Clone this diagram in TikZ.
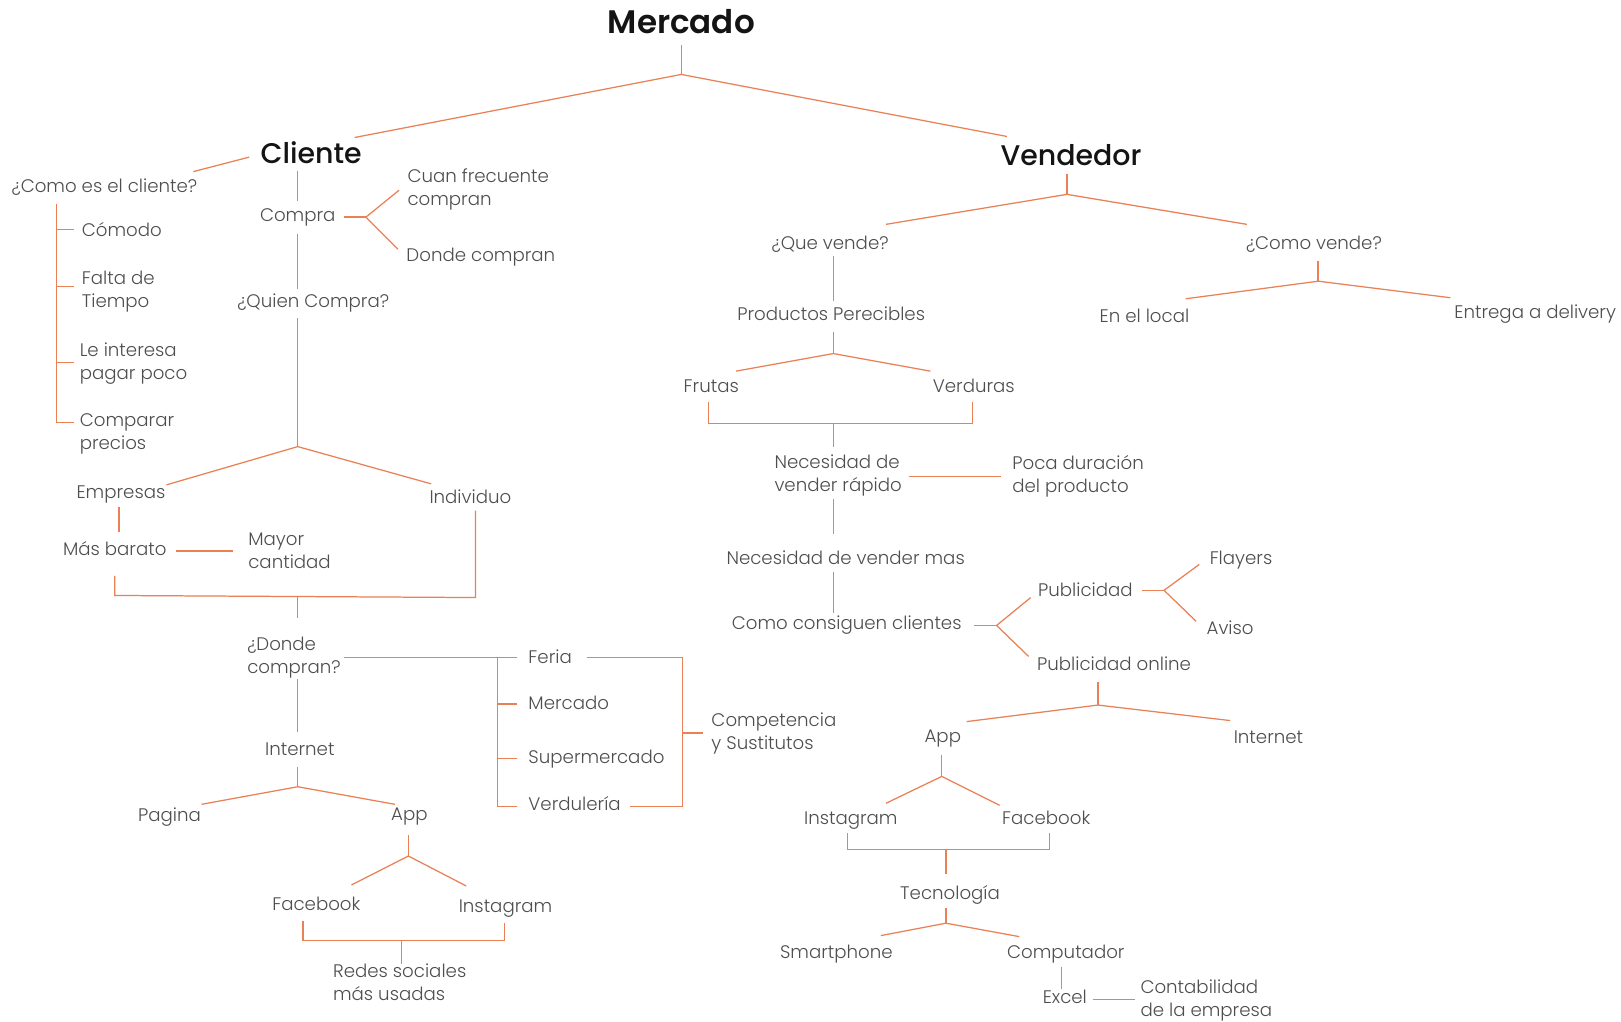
\documentclass[tikz,border=0pt]{standalone}
\usepackage{fontspec}
\setmainfont{Poppins}[UprightFont=* Light, BoldFont=* SemiBold]
\newfontfamily\medfont{Poppins}[UprightFont=* Medium]
\definecolor{lnc}{RGB}{234,128,86}
\definecolor{txt}{RGB}{78,78,78}
\definecolor{ttl}{RGB}{20,20,20}
\begin{document}
\begin{tikzpicture}[x=1pt,y=-1pt,
  t/.style={inner sep=0pt, text=txt, font=\fontsize{17.6}{22}\selectfont, align=left},
  tc/.style={t, anchor=base},
  tl/.style={t, anchor=base west},
  ttlstyle/.style={inner sep=0pt, text=ttl, anchor=base},
  ln/.style={draw=lnc, line width=1.2pt}]
\useasboundingbox[fill=white] (0,0) rectangle (1568,988);

% ---------------- titles
\node[ttlstyle, font=\fontsize{31.5}{36}\selectfont\bfseries] (mercado) at (659,32) {Mercado};
\node[ttlstyle, font=\fontsize{27.5}{30}\selectfont\medfont] (cliente) at (301,158) {Cliente};
\node[ttlstyle, font=\fontsize{27.5}{30}\selectfont\medfont] (vendedor) at (1036,160) {Vendedor};

% ---------------- cliente side (two-line nodes: base = last line)
\node[tc] (comoes) at (101,186) {¿Como es el cliente?};
\node[tl] (comodo) at (79,229) {Cómodo};
\node[tl] (falta) at (79,297) {Falta de\\Tiempo};
\node[tl] (interesa) at (77,367) {Le interesa\\pagar poco};
\node[tl] (comparar) at (77,435) {Comparar\\precios};
\node[tc] (compra) at (288,214) {Compra};
\node[tl] (cuan) at (394,199) {Cuan frecuente\\compran};
\node[tl] (donde1) at (393,253) {Donde compran};
\node[tc] (quien) at (303,297) {¿Quien Compra?};
\node[tc] (empresas) at (117,482) {Empresas};
\node[tc] (individuo) at (455,487) {Individuo};
\node[tc] (barato) at (111,537) {Más barato};
\node[tl] (mayor) at (240,550) {Mayor\\cantidad};
\node[tl] (dondec) at (239,651) {¿Donde\\compran?};
\node[tl] (feria) at (511,642) {Feria};
\node[tl] (mercado2) at (511,686) {Mercado};
\node[tl] (super) at (511,739) {Supermercado};
\node[tl] (verdu) at (511,784) {Verdulería};
\node[tl] (compet) at (688,725) {Competencia\\y Sustitutos};
\node[tc] (internet1) at (290,731) {Internet};
\node[tc] (pagina) at (164,795) {Pagina};
\node[tc] (app1) at (396,794) {App};
\node[tc] (fb1) at (306,881) {Facebook};
\node[tc] (ig1) at (489,883) {Instagram};
\node[tl] (redes) at (322,968) {Redes sociales\\más usadas};

% ---------------- vendedor side
\node[tc] (quevende) at (803,241) {¿Que vende?};
\node[tc] (comovende) at (1271,241) {¿Como vende?};
\node[tc] (enlocal) at (1107,312) {En el local};
\node[tc] (delivery) at (1485,308) {Entrega a delivery};
\node[tc] (perecibles) at (804,310) {Productos Perecibles};
\node[tc] (frutas) at (688,380) {Frutas};
\node[tc] (verduras) at (942,380) {Verduras};
\node[tl] (necesidad) at (749,475) {Necesidad de\\vender rápido};
\node[tl] (poca) at (979,476) {Poca duración\\del producto};
\node[tc] (nvmas) at (818,546) {Necesidad de vender mas};
\node[tc] (consiguen) at (819,609) {Como consiguen clientes};
\node[tl] (publicidad) at (1004,577) {Publicidad};
\node[tl] (flayers) at (1170,546) {Flayers};
\node[tl] (aviso) at (1167,614) {Aviso};
\node[tl] (puonline) at (1003,649) {Publicidad online};
\node[tc] (app2) at (912,718) {App};
\node[tc] (internet2) at (1227,719) {Internet};
\node[tc] (ig2) at (823,798) {Instagram};
\node[tc] (fb2) at (1012,798) {Facebook};
\node[tc] (tecno) at (919,870) {Tecnología};
\node[tc] (smart) at (809,927) {Smartphone};
\node[tc] (comput) at (1031,927) {Computador};
\node[tc] (excel) at (1030,971) {Excel};
\node[tl] (contab) at (1103,983) {Contabilidad\\de la empresa};

% ---------------- connector points
\coordinate (mA) at (659,44);  \coordinate (mJ) at (659,72);
\coordinate (mL) at (343,133); \coordinate (mR) at (974,132);
\coordinate (cA) at (241,152); \coordinate (cB) at (187,166);
\coordinate (bT) at (55,197);  \coordinate (bB) at (55,409);
\coordinate (b1) at (55,222);  \coordinate (b2) at (55,277);  \coordinate (b3) at (55,351);
\coordinate (b1e) at (72,222); \coordinate (b2e) at (72,277); \coordinate (b3e) at (72,351); \coordinate (b4e) at (72,409);
\coordinate (clA) at (288,165); \coordinate (clB) at (288,194);
\coordinate (coA) at (288,226); \coordinate (coB) at (288,280);
\coordinate (fkA) at (333,210); \coordinate (fkJ) at (354,210);
\coordinate (fkU) at (386,184); \coordinate (fkD) at (385,241);
\coordinate (qA) at (288,308); \coordinate (qJ) at (288,432);
\coordinate (qL) at (161,469); \coordinate (qR) at (417,468);
\coordinate (eA) at (115,490); \coordinate (eB) at (115,515);
\coordinate (mbA) at (170,533); \coordinate (mbB) at (225,533);
\coordinate (mgA) at (111,557); \coordinate (mgB) at (111,576);
\coordinate (mgC) at (460,578); \coordinate (mgD) at (460,494);
\coordinate (mgS) at (288,577); \coordinate (mgE) at (288,598);
\coordinate (dA) at (333,636); \coordinate (dJ) at (481,636); \coordinate (dF) at (500,636);
\coordinate (dB) at (481,780); \coordinate (dV) at (500,780);
\coordinate (d2) at (481,681); \coordinate (d2e) at (500,681);
\coordinate (d3) at (481,734); \coordinate (d3e) at (500,734);
\coordinate (rA) at (568,636); \coordinate (rB) at (660,636);
\coordinate (rC) at (660,780); \coordinate (rD) at (609,780);
\coordinate (rM) at (660,709); \coordinate (rMe) at (680,709);
\coordinate (diA) at (288,657); \coordinate (diB) at (288,708);
\coordinate (iA) at (288,742); \coordinate (iJ) at (288,761);
\coordinate (iL) at (195,778); \coordinate (iR) at (382,778);
\coordinate (aA) at (395,808); \coordinate (aJ) at (395,828);
\coordinate (aL) at (340,856); \coordinate (aR) at (451,857);
\coordinate (rsA) at (293,891); \coordinate (rsB) at (293,910);
\coordinate (rsC) at (488,910); \coordinate (rsD) at (488,893);
\coordinate (rsS) at (388,910); \coordinate (rsE) at (388,932);
% vendedor
\coordinate (vA) at (1032,168); \coordinate (vJ) at (1032,188);
\coordinate (vL) at (857,217);  \coordinate (vR) at (1206,217);
\coordinate (cvA) at (1275,252); \coordinate (cvJ) at (1275,272);
\coordinate (cvL) at (1147,289); \coordinate (cvR) at (1403,288);
\coordinate (qvA) at (806,248); \coordinate (qvB) at (806,291);
\coordinate (pA) at (806,321); \coordinate (pJ) at (806,342);
\coordinate (pL) at (712,359); \coordinate (pR) at (900,359);
\coordinate (fvA) at (685,389); \coordinate (fvB) at (685,410);
\coordinate (fvC) at (941,410); \coordinate (fvD) at (941,389);
\coordinate (fvS) at (806,410); \coordinate (fvE) at (806,432);
\coordinate (nA) at (879,461); \coordinate (nB) at (968,461);
\coordinate (nmA) at (806,483); \coordinate (nmB) at (806,517);
\coordinate (ncA) at (806,553); \coordinate (ncB) at (806,593);
\coordinate (kA) at (942,605); \coordinate (kJ) at (964,605);
\coordinate (kU) at (997,578); \coordinate (kD) at (995,635);
\coordinate (puA) at (1105,571); \coordinate (puJ) at (1126,571);
\coordinate (puU) at (1160,546); \coordinate (puD) at (1157,601);
\coordinate (poA) at (1062,660); \coordinate (poJ) at (1062,682);
\coordinate (poL) at (935,698); \coordinate (poR) at (1190,697);
\coordinate (a2A) at (911,730); \coordinate (a2J) at (911,751);
\coordinate (a2L) at (857,777); \coordinate (a2R) at (967,779);
\coordinate (tgA) at (820,806); \coordinate (tgB) at (820,822);
\coordinate (tgC) at (1015,822); \coordinate (tgD) at (1015,806);
\coordinate (tgS) at (915,822); \coordinate (tgE) at (915,845);
\coordinate (teA) at (915,878); \coordinate (teJ) at (915,893);
\coordinate (teL) at (852,905); \coordinate (teR) at (986,906);
\coordinate (exA) at (1027,935); \coordinate (exB) at (1027,957);
\coordinate (ctA) at (1057,967); \coordinate (ctB) at (1098,967);

% ---------------- connectors
\draw[ln] (mA) -- (mJ);
\draw[ln] (mL) -- (mJ) -- (mR);
\draw[ln] (cA) -- (cB);
\draw[ln] (bT) -- (bB) -- (b4e);
\draw[ln] (b1) -- (b1e);
\draw[ln] (b2) -- (b2e);
\draw[ln] (b3) -- (b3e);
\draw[ln] (clA) -- (clB);
\draw[ln] (coA) -- (coB);
\draw[ln] (fkA) -- (fkJ);
\draw[ln] (fkU) -- (fkJ) -- (fkD);
\draw[ln] (qA) -- (qJ);
\draw[ln] (qL) -- (qJ) -- (qR);
\draw[ln] (eA) -- (eB);
\draw[ln] (mbA) -- (mbB);
\draw[ln] (mgA) -- (mgB) -- (mgC) -- (mgD);
\draw[ln] (mgS) -- (mgE);
\draw[ln] (dA) -- (dF);
\draw[ln] (dJ) -- (dB) -- (dV);
\draw[ln] (d2) -- (d2e);
\draw[ln] (d3) -- (d3e);
\draw[ln] (rA) -- (rB) -- (rC) -- (rD);
\draw[ln] (rM) -- (rMe);
\draw[ln] (diA) -- (diB);
\draw[ln] (iA) -- (iJ);
\draw[ln] (iL) -- (iJ) -- (iR);
\draw[ln] (aA) -- (aJ);
\draw[ln] (aL) -- (aJ) -- (aR);
\draw[ln] (rsA) -- (rsB) -- (rsC) -- (rsD);
\draw[ln] (rsS) -- (rsE);
\draw[ln] (vA) -- (vJ);
\draw[ln] (vL) -- (vJ) -- (vR);
\draw[ln] (cvA) -- (cvJ);
\draw[ln] (cvL) -- (cvJ) -- (cvR);
\draw[ln] (qvA) -- (qvB);
\draw[ln] (pA) -- (pJ);
\draw[ln] (pL) -- (pJ) -- (pR);
\draw[ln] (fvA) -- (fvB) -- (fvC) -- (fvD);
\draw[ln] (fvS) -- (fvE);
\draw[ln] (nA) -- (nB);
\draw[ln] (nmA) -- (nmB);
\draw[ln] (ncA) -- (ncB);
\draw[ln] (kA) -- (kJ);
\draw[ln] (kU) -- (kJ) -- (kD);
\draw[ln] (puA) -- (puJ);
\draw[ln] (puU) -- (puJ) -- (puD);
\draw[ln] (poA) -- (poJ);
\draw[ln] (poL) -- (poJ) -- (poR);
\draw[ln] (a2A) -- (a2J);
\draw[ln] (a2L) -- (a2J) -- (a2R);
\draw[ln] (tgA) -- (tgB) -- (tgC) -- (tgD);
\draw[ln] (tgS) -- (tgE);
\draw[ln] (teA) -- (teJ);
\draw[ln] (teL) -- (teJ) -- (teR);
\draw[ln] (exA) -- (exB);
\draw[ln] (ctA) -- (ctB);
\end{tikzpicture}
\end{document}
